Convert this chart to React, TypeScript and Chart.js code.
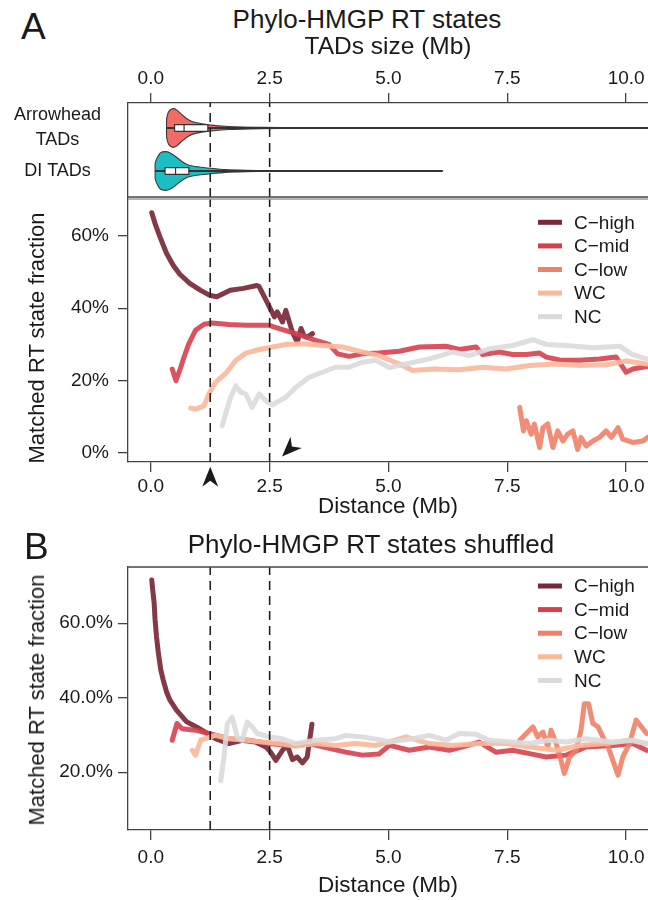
import React, { useEffect, useRef } from 'react';
import { Chart, registerables } from 'chart.js';

Chart.register(...registerables);

const FONT = "'Liberation Sans', Arial, Helvetica, sans-serif";
Chart.defaults.font.family = FONT;
Chart.defaults.color = '#1a1a1a';

type Pt = [number, number];

// ---------------- data ----------------
const DIST_TICKS = [0, 2.5, 5, 7.5, 10];
const FRAC_TICKS_A = [0, 20, 40, 60];
const FRAC_TICKS_B = [20, 40, 60];
const TAD_CUTOFFS = [1.25, 2.5];
const SERIES_NAMES = ['C\u2212high', 'C\u2212mid', 'C\u2212low', 'WC', 'NC'];

// Panel A: Phylo-HMGP RT states (distance Mb, matched fraction %)
const A_CHIGH: Pt[] = [[0.02, 66.4], [0.09, 63.4], [0.19, 59.8], [0.33, 55.2], [0.47, 51.9], [0.61, 49.4], [0.82, 46.9], [1.04, 45], [1.25, 43.5], [1.39, 43.2], [1.53, 44.1], [1.67, 45], [1.95, 45.5], [2.23, 46.3], [2.28, 46], [2.49, 40.5], [2.6, 37.6], [2.66, 39], [2.77, 36.2], [2.84, 39.4], [2.98, 33.4], [3.08, 30.6], [3.16, 34.4], [3.22, 32.5], [3.29, 32], [3.4, 33]];
const A_CMID: Pt[] = [[0.45, 23.2], [0.53, 20], [0.63, 23.7], [0.7, 26.5], [0.8, 30.2], [0.94, 33.9], [1.12, 35.6], [1.29, 35.9], [1.64, 35.5], [2.0, 35.3], [2.49, 35.3], [2.77, 34.1], [3.05, 33], [3.47, 31.1], [3.75, 30], [3.93, 27.4], [4.17, 26.7], [4.45, 27.4], [4.8, 27.6], [5.23, 28.1], [5.65, 29.3], [6.21, 29.5], [6.49, 28.6], [6.84, 29.3], [6.98, 27.2], [7.33, 27.9], [7.61, 27.2], [7.9, 27.2], [8.18, 27.6], [8.32, 26.5], [8.6, 25.7], [9.02, 25.6], [9.44, 26], [9.79, 26.5], [10.0, 22.3], [10.14, 23.2], [10.43, 23.9]];
const A_CLOW: Pt[] = [[7.76, 12.6], [7.84, 6.1], [7.9, 8.9], [8.0, 5.2], [8.07, 8], [8.18, 1.5], [8.25, 7], [8.35, 8], [8.46, 1.5], [8.56, 6.1], [8.67, 3.3], [8.77, 5.2], [8.88, 6.1], [8.98, 1.0], [9.05, 4.3], [9.16, 1.9], [9.3, 3.3], [9.44, 4.3], [9.58, 6.1], [9.69, 4.3], [9.83, 7], [9.93, 3.8], [10.14, 2.9], [10.35, 3.3], [10.45, 4.3]];
const A_WC: Pt[] = [[0.84, 12.4], [0.94, 12.1], [1.12, 13], [1.22, 16.3], [1.36, 19.5], [1.57, 21.9], [1.79, 25.6], [2.0, 27.6], [2.28, 28.6], [2.56, 29.3], [2.84, 30], [3.19, 30.2], [3.61, 29.7], [4.03, 29.3], [4.45, 27.9], [4.8, 26.9], [5.23, 24.6], [5.51, 22.8], [5.93, 23.2], [6.49, 23], [6.98, 23.7], [7.48, 23.2], [7.97, 24.2], [8.53, 24.6], [9.02, 24.2], [9.58, 24.4], [10.0, 25.4], [10.43, 24.6]];
const A_NC: Pt[] = [[1.5, 7.5], [1.57, 10.7], [1.68, 15.4], [1.79, 18.6], [1.89, 16.8], [2.0, 16.3], [2.13, 12.6], [2.28, 16.3], [2.42, 14.4], [2.56, 13.3], [2.7, 14.4], [2.84, 15.4], [3.05, 18.1], [3.33, 20.9], [3.61, 22.3], [3.89, 23.7], [4.17, 23.7], [4.45, 25.1], [4.74, 25.6], [5.02, 23.6], [5.37, 24.6], [5.86, 26], [6.35, 27.9], [6.7, 26.9], [7.12, 28.8], [7.61, 29.7], [8.04, 31.3], [8.32, 30], [8.74, 29.7], [9.3, 29.1], [9.86, 29.5], [10.14, 27.2], [10.43, 26]];

// Panel B: shuffled
const B_CHIGH: Pt[] = [[0.02, 71.6], [0.04, 68.9], [0.07, 65.4], [0.09, 60.9], [0.12, 56.4], [0.16, 51.9], [0.21, 47.5], [0.26, 44.8], [0.33, 41.6], [0.4, 39.4], [0.54, 36.7], [0.75, 33.6], [0.97, 32.1], [1.18, 30.5], [1.36, 29], [1.64, 27.7], [1.92, 28.6], [2.2, 28.1], [2.42, 26.8], [2.52, 25.4], [2.63, 23.2], [2.77, 25.9], [2.87, 27.2], [2.98, 23.4], [3.08, 24.1], [3.19, 22.5], [3.29, 24.1], [3.39, 32.9]];
const B_CMID: Pt[] = [[0.45, 28.6], [0.55, 33.1], [0.66, 31.7], [0.94, 31.3], [1.22, 30.4], [1.64, 29], [2.06, 28.6], [2.49, 27.7], [2.91, 27.2], [3.33, 27.7], [3.75, 26.4], [4.1, 25.4], [4.45, 24.6], [4.8, 24.9], [5.02, 27.2], [5.44, 25.9], [5.86, 26.8], [6.28, 25.9], [6.56, 26.8], [6.91, 28.1], [7.26, 25.4], [7.61, 25.9], [7.97, 25], [8.32, 24.1], [8.74, 24.6], [9.16, 26.8], [9.72, 27.2], [10.14, 27.7], [10.43, 25.9]];
const B_CLOW: Pt[] = [[7.76, 28.6], [7.9, 30.4], [8.04, 32.2], [8.14, 29.5], [8.25, 30.8], [8.35, 26.8], [8.42, 31.3], [8.53, 27.7], [8.63, 23.2], [8.7, 19.7], [8.81, 24.1], [8.95, 25.9], [9.05, 31.3], [9.12, 38.4], [9.21, 38.4], [9.3, 33.1], [9.41, 32.2], [9.51, 29.5], [9.62, 26.8], [9.72, 23.2], [9.83, 19.2], [9.93, 24.1], [10.07, 27.7], [10.21, 34], [10.32, 32.2], [10.43, 30.4]];
const B_WC: Pt[] = [[0.87, 25.9], [0.94, 24.6], [1.05, 28.6], [1.36, 29.9], [1.64, 29], [2.0, 28.6], [2.35, 28.1], [2.7, 27.7], [3.05, 27], [3.47, 27.7], [3.89, 27.2], [4.31, 27.7], [4.74, 27.2], [5.0, 28.1], [5.37, 29.5], [5.86, 27.7], [6.35, 27.2], [6.91, 27.7], [7.48, 27.7], [7.97, 26.8], [8.53, 25.9], [9.02, 27.2], [9.58, 27.7], [10.07, 28.6], [10.43, 27.7]];
const B_NC: Pt[] = [[1.47, 17.7], [1.54, 24.1], [1.61, 33.1], [1.71, 34.8], [1.82, 29.5], [1.92, 28.6], [2.03, 33.5], [2.13, 32.2], [2.24, 30.4], [2.49, 29.5], [2.77, 29], [3.05, 27.7], [3.47, 28.6], [3.89, 29], [4.1, 29.9], [4.45, 29.5], [4.87, 28.6], [5.02, 28.1], [5.51, 29], [5.86, 29.9], [6.21, 28.6], [6.49, 30.4], [6.84, 30.2], [7.12, 28.6], [7.61, 28.1], [7.97, 27.7], [8.39, 28.6], [8.74, 28.1], [9.16, 29], [9.72, 28.1], [10.14, 28.6], [10.43, 27.7]];

// TAD size violins (size Mb, relative density) and box stats [min, q1, median, q3, max]
const TAD_LABELS: (string | string[])[] = [['Arrowhead', 'TADs'], 'DI TADs'];
const ARROW_VIOLIN_X = [0.33, 0.332, 0.35, 0.38, 0.43, 0.48, 0.55, 0.66, 0.8, 0.94, 1.22, 1.64, 2.35, 3.05, 5.0, 8.0, 10.6];
const ARROW_VIOLIN_D = [0, 0.45, 0.68, 0.86, 0.97, 1, 0.92, 0.67, 0.41, 0.28, 0.16, 0.08, 0.036, 0.015, 0.006, 0.004, 0.003];
const ARROW_BOX = [0.33, 0.5, 0.7, 1.2, 12];
const DI_VIOLIN_X = [0.09, 0.092, 0.13, 0.2, 0.31, 0.41, 0.52, 0.66, 0.8, 1.01, 1.26, 1.57, 2.0, 2.49, 4.0, 6.14];
const DI_VIOLIN_D = [0, 0.4, 0.66, 0.93, 1, 0.93, 0.75, 0.48, 0.3, 0.21, 0.14, 0.07, 0.037, 0.016, 0.005, 0.003];
const DI_BOX = [0.09, 0.3, 0.52, 0.8, 6.14];

// Annotation arrowheads (tip position in data units, pointing angle in degrees)
const ARROW_TIP_X = [1.25, 2.76];
const ARROW_TIP_Y = [-3.8, -0.97];
const ARROW_ANGLE = [-90, 135];

// ---------------- styles ----------------
const LINE_COLORS = ['rgba(122,40,55,0.92)', 'rgba(214,64,76,0.9)', 'rgba(240,128,104,0.9)', 'rgba(249,185,155,0.92)', 'rgba(218,218,218,0.9)'];
const LEGEND_COLORS = ['#7a2837', '#d6404c', '#f08068', '#f9b99b', '#dadada'];
const ARROW_FILL = '#f26b65';
const DI_FILL = '#1cbec4';
const AXIS_COLOR = '#444';
const X_MIN = -0.48;
const X_MAX = 10.46;
const VIOLIN_HALF = 0.45;
const BOX_HALF = 0.08;

const toXY = (pts: Pt[]) => pts.map(([x, y]) => ({ x, y }));

function distScale(position: 'top' | 'bottom', title: string, titleSize: number, height: number, tickPad: number, titlePad: any) {
  return {
    type: 'linear',
    position,
    min: X_MIN,
    max: X_MAX,
    afterBuildTicks: (s: any) => { s.ticks = DIST_TICKS.map((v) => ({ value: v })); },
    afterFit: (s: any) => { s.height = height; s.paddingLeft = 0; s.paddingRight = 0; },
    ticks: { callback: (v: any) => Number(v).toFixed(1), font: { size: 19 }, color: '#1a1a1a', padding: tickPad, maxRotation: 0, autoSkip: false },
    grid: { display: true, drawOnChartArea: false, drawTicks: true, tickLength: 10, color: AXIS_COLOR, lineWidth: 1.3 },
    border: { display: true, color: AXIS_COLOR, width: 1.3 },
    title: { display: true, text: title, font: { size: titleSize }, color: '#1a1a1a', padding: titlePad },
  };
}

function cutoffDatasets(yMin: number, yMax: number) {
  return TAD_CUTOFFS.map((c) => ({
    label: 'cutoff',
    data: [{ x: c, y: yMin }, { x: c, y: yMax }],
    showLine: true,
    borderColor: '#222',
    borderWidth: 1.6,
    borderDash: [9, 6],
    pointRadius: 0,
    order: -1,
  }));
}

const framePlugin = (sides: ('top' | 'bottom')[], color: string) => ({
  id: 'frame',
  afterDraw(chart: any) {
    const { ctx, chartArea } = chart;
    ctx.save();
    ctx.strokeStyle = color;
    ctx.lineWidth = 1.3;
    sides.forEach((s) => {
      const y = chartArea[s];
      ctx.beginPath();
      ctx.moveTo(chartArea.left, y);
      ctx.lineTo(chartArea.right, y);
      ctx.stroke();
    });
    ctx.restore();
  },
});

const legendPlugin = (offset: number) => ({
  id: 'rtLegend',
  afterDraw(chart: any) {
    const { ctx, chartArea } = chart;
    ctx.save();
    ctx.font = `19px ${FONT}`;
    ctx.textBaseline = 'middle';
    ctx.textAlign = 'left';
    SERIES_NAMES.forEach((name, i) => {
      const y = chartArea.top + offset + i * 23.6;
      const x0 = chartArea.right - 110;
      ctx.strokeStyle = LEGEND_COLORS[i];
      ctx.lineWidth = 5;
      ctx.beginPath();
      ctx.moveTo(x0, y);
      ctx.lineTo(x0 + 24, y);
      ctx.stroke();
      ctx.fillStyle = '#1a1a1a';
      ctx.fillText(name, x0 + 36, y + 1);
    });
    ctx.restore();
  },
});

const arrowPlugin = {
  id: 'arrowMarks',
  afterDraw(chart: any) {
    const { ctx, scales } = chart;
    ctx.save();
    ctx.fillStyle = '#1a1a1a';
    ARROW_TIP_X.forEach((xv, i) => {
      const px = scales.x.getPixelForValue(xv);
      const py = scales.y.getPixelForValue(ARROW_TIP_Y[i]);
      ctx.save();
      ctx.translate(px, py);
      ctx.rotate((ARROW_ANGLE[i] * Math.PI) / 180);
      ctx.beginPath();
      ctx.moveTo(0, 0);
      ctx.lineTo(-20, -8);
      ctx.lineTo(-14, 0);
      ctx.lineTo(-20, 8);
      ctx.closePath();
      ctx.fill();
      ctx.restore();
    });
    ctx.restore();
  },
};

function violinConfig(): any {
  const groups = [
    { c: 2, xs: ARROW_VIOLIN_X, ds: ARROW_VIOLIN_D, box: ARROW_BOX, fill: ARROW_FILL },
    { c: 1, xs: DI_VIOLIN_X, ds: DI_VIOLIN_D, box: DI_BOX, fill: DI_FILL },
  ];
  const datasets: any[] = [];
  groups.forEach((g) => {
    const upper = g.xs.map((x, i) => ({ x, y: g.c + g.ds[i] * VIOLIN_HALF }));
    const lower = g.xs.map((x, i) => ({ x, y: g.c - g.ds[i] * VIOLIN_HALF })).reverse();
    datasets.push({ label: 'violin', data: upper.concat(lower), showLine: true, fill: 'shape', backgroundColor: g.fill, borderColor: '#3a3a3a', borderWidth: 1.1, pointRadius: 0, tension: 0.2, order: 3 });
    const [mn, q1, md, q3, mx] = g.box;
    datasets.push({ label: 'whisker', data: [{ x: mn, y: g.c }, { x: q1, y: g.c }], showLine: true, borderColor: '#333', borderWidth: 2, pointRadius: 0, order: 2 });
    datasets.push({ label: 'whisker', data: [{ x: q3, y: g.c }, { x: mx, y: g.c }], showLine: true, borderColor: '#333', borderWidth: 2, pointRadius: 0, order: 2 });
    datasets.push({
      label: 'box',
      data: [{ x: q1, y: g.c - BOX_HALF }, { x: q3, y: g.c - BOX_HALF }, { x: q3, y: g.c + BOX_HALF }, { x: q1, y: g.c + BOX_HALF }, { x: q1, y: g.c - BOX_HALF }],
      showLine: true, fill: 'shape', backgroundColor: '#ffffff', borderColor: '#333', borderWidth: 1.2, pointRadius: 0, order: 1,
    });
    datasets.push({ label: 'median', data: [{ x: md, y: g.c - BOX_HALF }, { x: md, y: g.c + BOX_HALF }], showLine: true, borderColor: '#333', borderWidth: 1.2, pointRadius: 0, order: 0 });
  });
  datasets.push(...cutoffDatasets(0.395, 2.581));
  return {
    type: 'scatter',
    data: { datasets },
    options: {
      animation: false,
      responsive: false,
      devicePixelRatio: 1,
      layout: { padding: { top: 0, bottom: 5, left: 0, right: 0 } },
      plugins: { legend: { display: false }, tooltip: { enabled: false } },
      scales: {
        x: distScale('top', 'TADs size (Mb)', 24.5, 73, 3, { top: 3, bottom: 0 }),
        y: {
          type: 'linear',
          min: 0.395,
          max: 2.581,
          afterBuildTicks: (s: any) => { s.ticks = [{ value: 2 }, { value: 1 }]; },
          afterFit: (s: any) => { s.width = 128; s.paddingTop = 0; s.paddingBottom = 0; },
          ticks: {
            callback: (v: any) => (v === 2 ? TAD_LABELS[0] : TAD_LABELS[1]),
            font: { size: 18, lineHeight: 1.39 },
            color: '#1a1a1a',
            crossAlign: 'center',
            padding: 27,
            autoSkip: false,
          },
          grid: { display: false, drawTicks: false },
          border: { display: true, color: AXIS_COLOR, width: 1.3 },
        },
      },
    },
    plugins: [framePlugin(['bottom'], AXIS_COLOR)],
  };
}

function lineConfig(panel: 'A' | 'B'): any {
  const isA = panel === 'A';
  const series = isA ? [A_CHIGH, A_CMID, A_CLOW, A_WC, A_NC] : [B_CHIGH, B_CMID, B_CLOW, B_WC, B_NC];
  const yMin = isA ? -2.5 : 4.5;
  const yMax = isA ? 70.2 : 75.1;
  const yTicks = isA ? FRAC_TICKS_A : FRAC_TICKS_B;
  const datasets: any[] = series.map((pts, i) => ({
    label: SERIES_NAMES[i],
    data: toXY(pts),
    showLine: true,
    borderColor: LINE_COLORS[i],
    borderWidth: 5,
    pointRadius: 0,
    tension: 0,
    borderJoinStyle: 'round',
    borderCapStyle: 'round',
    order: 5 - i,
  }));
  datasets.push(...cutoffDatasets(yMin, yMax));
  const plugins: any[] = [framePlugin(['top'], isA ? '#9a9a9a' : AXIS_COLOR), legendPlugin(isA ? 23.3 : 19)];
  if (isA) plugins.push(arrowPlugin);
  return {
    type: 'scatter',
    data: { datasets },
    options: {
      animation: false,
      responsive: false,
      devicePixelRatio: 1,
      layout: { padding: { top: isA ? 13 : 16, bottom: 0, left: 0, right: 0 } },
      plugins: { legend: { display: false }, tooltip: { enabled: false } },
      scales: {
        x: distScale('bottom', 'Distance (Mb)', 22.5, isA ? 58 : 70, isA ? 3.8 : 6.8, { top: 0, bottom: isA ? 0 : 1 }),
        y: {
          type: 'linear',
          min: yMin,
          max: yMax,
          afterBuildTicks: (s: any) => { s.ticks = yTicks.map((v) => ({ value: v })); },
          afterFit: (s: any) => { s.width = 128; s.paddingTop = 0; s.paddingBottom = 0; },
          ticks: {
            callback: (v: any) => (isA ? `${v}%` : `${Number(v).toFixed(1)}%`),
            font: { size: 19 },
            color: '#1a1a1a',
            padding: isA ? 9 : 5,
            autoSkip: false,
          },
          grid: { display: true, drawOnChartArea: false, drawTicks: true, tickLength: 10, color: AXIS_COLOR, lineWidth: 1.3 },
          border: { display: true, color: AXIS_COLOR, width: 1.3 },
        },
      },
    },
    plugins,
  };
}

export default function App() {
  const vRef = useRef<HTMLCanvasElement>(null);
  const aRef = useRef<HTMLCanvasElement>(null);
  const bRef = useRef<HTMLCanvasElement>(null);

  useEffect(() => {
    const charts = [
      new Chart(vRef.current as HTMLCanvasElement, violinConfig()),
      new Chart(aRef.current as HTMLCanvasElement, lineConfig('A')),
      new Chart(bRef.current as HTMLCanvasElement, lineConfig('B')),
    ];
    return () => charts.forEach((c) => c.destroy());
  }, []);

  const abs = (left: number, top: number, w: number, h: number): React.CSSProperties => ({ position: 'absolute', left, top, width: w, height: h });
  const textStyle: React.CSSProperties = { position: 'absolute', whiteSpace: 'nowrap', color: '#1a1a1a' };
  const yTitle = (cy: number): React.CSSProperties => ({
    ...textStyle, left: 37, top: cy, fontSize: 22, lineHeight: '22px',
    transform: 'translate(-50%, -50%) rotate(-90deg)',
  });

  return (
    <div style={{ position: 'absolute', left: 0, top: 0, width: 648, height: 900, background: '#fff', fontFamily: FONT, overflow: 'hidden' }}>
      <div style={{ ...textStyle, left: 21, top: 6, fontSize: 37 }}>A</div>
      <div style={{ ...textStyle, left: 67, top: 4, width: 600, textAlign: 'center', fontSize: 26 }}>Phylo-HMGP RT states</div>
      <canvas ref={vRef} width={648} height={172} style={abs(0, 30, 648, 172)} />
      <canvas ref={aRef} width={648} height={334} style={abs(0, 186, 648, 334)} />
      <div style={yTitle(338)}>Matched RT state fraction</div>
      <div style={{ ...textStyle, left: 24, top: 526, fontSize: 37 }}>B</div>
      <div style={{ ...textStyle, left: 71, top: 529, width: 600, textAlign: 'center', fontSize: 26 }}>Phylo-HMGP RT states shuffled</div>
      <canvas ref={bRef} width={648} height={349} style={abs(0, 551, 648, 349)} />
      <div style={yTitle(700)}>Matched RT state fraction</div>
    </div>
  );
}
